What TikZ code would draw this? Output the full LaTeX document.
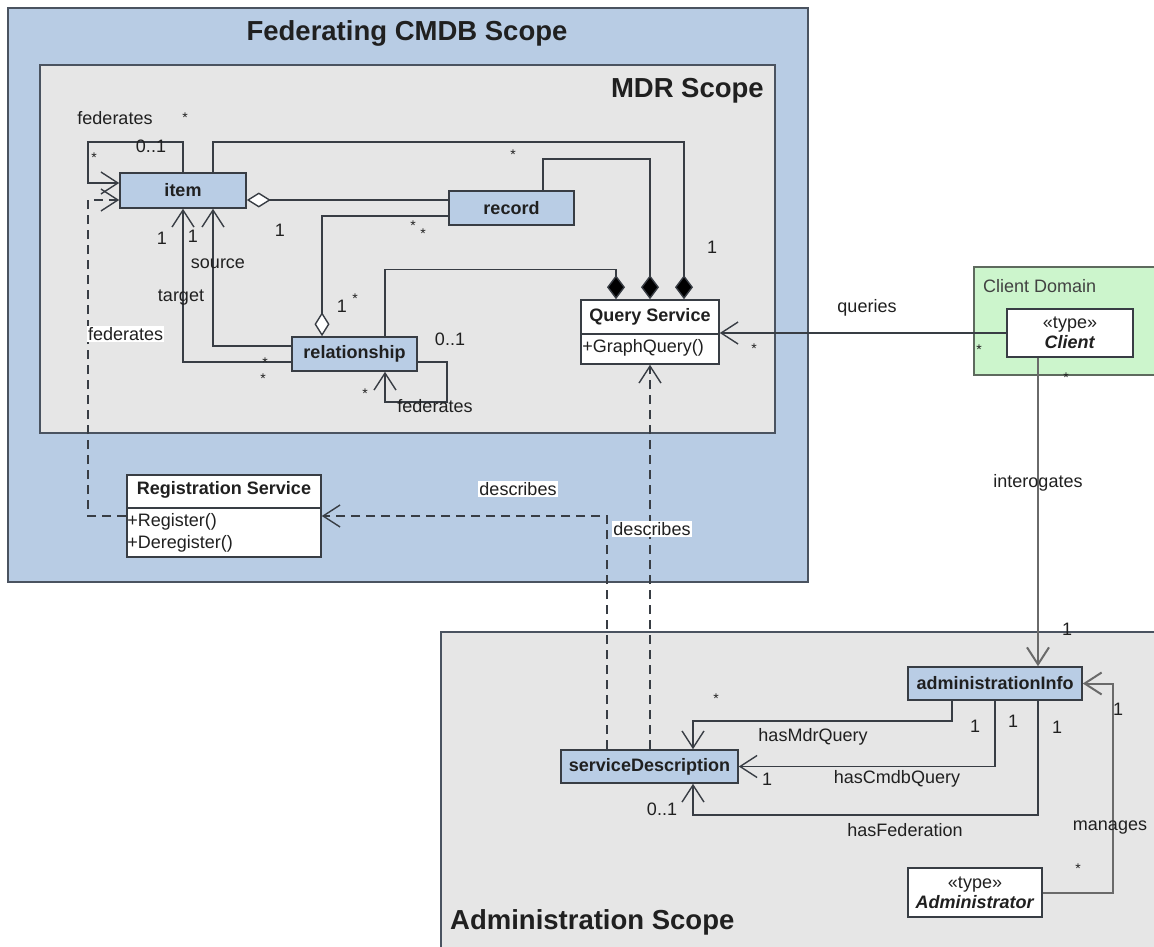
\documentclass[tikz,border=0pt]{standalone}
\usepackage{fontspec}
\setmainfont{Liberation Sans}
\usetikzlibrary{arrows.meta}

\definecolor{classfill}{HTML}{B9CDE5}
\definecolor{fedfill}{HTML}{B8CCE4}
\definecolor{mdrfill}{HTML}{E6E6E6}
\definecolor{adminfill}{HTML}{E6E6E6}
\definecolor{clientfill}{HTML}{CCF5CC}
\definecolor{clientedge}{HTML}{5E6A5E}
\definecolor{edge}{HTML}{383D44}
\definecolor{scopeedge}{HTML}{4A5360}
\definecolor{ink}{HTML}{202020}
\definecolor{greyline}{HTML}{6A6A6A}

\tikzset{
  lbl/.style={font=\fontsize{18}{20}\selectfont, text=ink, inner sep=0pt},
  star/.style={font=\fontsize{14}{16}\selectfont, text=ink, inner sep=0pt},
  classbox/.style={draw=edge, fill=classfill, line width=1.6pt, inner sep=0pt,
    font=\bfseries\fontsize{18}{20}\selectfont, text=ink},
  typebox/.style={draw=edge, fill=white, line width=1.6pt, inner sep=0pt,
    align=center, font=\fontsize{18}{21}\selectfont, text=ink},
  scopetitle/.style={font=\bfseries\fontsize{27.5}{30}\selectfont, text=ink, inner sep=0pt},
  assoc/.style={draw=edge, line width=1.4pt},
  nav/.style={assoc, -{Straight Barb[length=17pt,width=22pt]}},
  greynav/.style={nav, draw=greyline, line width=2pt},
  dep/.style={nav, dash pattern=on 9pt off 6pt},
  comp/.style={assoc, -{Diamond[length=24pt,width=18pt,fill=black]}},
  aggr/.style={assoc, -{Diamond[length=24pt,width=15pt,fill=white]}},
  whitelbl/.style={lbl, fill=white, inner sep=1pt},
}

\begin{document}
\begin{tikzpicture}[x=1pt,y=-1pt]
\useasboundingbox (0,0) rectangle (1154,947);
\clip (0,0) rectangle (1154,947);
\fill[white] (0,0) rectangle (1154,947);

% ---- scopes ----
\draw[scopeedge, line width=1.8pt, fill=fedfill] (8,8) rectangle (808,582);
\draw[scopeedge, line width=1.8pt, fill=mdrfill] (40,65) rectangle (775,433);
\draw[scopeedge, line width=1.8pt, fill=adminfill] (441,632) rectangle (1170,960);
\draw[clientedge, line width=1.4pt, fill=clientfill] (974,267) rectangle (1170,375);

\node[scopetitle] (fedtitle) at (407,33) {Federating CMDB Scope};
\node[scopetitle, anchor=east] (mdrtitle) at (764,91) {MDR Scope};
\node[scopetitle, anchor=west] (admtitle) at (450,922) {Administration Scope};
\node[lbl, anchor=west, text=ink!85] (cdtitle) at (983,286) {Client Domain};

% ---- classes ----
\node[classbox, minimum width=126pt, minimum height=35pt] (item) at (183,190.5) {item};
\node[classbox, minimum width=125pt, minimum height=34pt] (record) at (511.5,208) {record};
\node[classbox, minimum width=125pt, minimum height=34pt] (rel) at (354.5,354) {relationship};
\node[classbox, minimum width=177pt, minimum height=33pt] (sd) at (649.5,766.5) {serviceDescription};
\node[classbox, minimum width=174pt, minimum height=33pt] (ai) at (995,683.5) {administrationInfo};

% Query Service with one operation
\node[typebox, minimum width=138pt, minimum height=64pt] (qs) at (650,332) {};
\draw[edge, line width=1.4pt] ([yshift=-2pt]qs.west) -- ([yshift=-2pt]qs.east);
\node[lbl, font=\bfseries\fontsize{18}{20}\selectfont] (qsname) at ([yshift=15pt]qs.center) {Query Service};
\node[lbl, anchor=west] (qsop) at ([xshift=2pt,yshift=-16pt]qs.west) {+GraphQuery()};

% Registration Service with two operations
\node[typebox, minimum width=194pt, minimum height=82pt] (reg) at (224,516) {};
\draw[edge, line width=1.4pt] ([yshift=8pt]reg.west) -- ([yshift=8pt]reg.east);
\node[lbl, font=\bfseries\fontsize{18}{20}\selectfont] (regname) at ([yshift=26pt]reg.center) {Registration Service};
\node[lbl, anchor=west] (regop1) at ([xshift=1pt,yshift=-6pt]reg.west) {+Register()};
\node[lbl, anchor=west] (regop2) at ([xshift=1pt,yshift=-28pt]reg.west) {+Deregister()};

% actor types
\node[typebox, minimum width=126pt, minimum height=48pt] (client) at (1070,333)
  {«type»\\[-1pt]\textbf{\textit{Client}}};
\node[typebox, minimum width=134pt, minimum height=49pt] (admin) at (975,892.5)
  {«type»\\[-1pt]\textbf{\textit{Administrator}}};

% ---- MDR associations ----
\draw[nav] (item.north) -- ++(0,-30) -| (88,183) -- ([yshift=7.5pt]item.west);
\draw[comp] ([xshift=30pt]item.north) -- ++(0,-30) -| ([xshift=34pt]qs.north);
\draw[comp] ([xshift=31.5pt]record.north) -- ++(0,-31) -| (qs.north);
\draw[comp] ([xshift=30.5pt]rel.north) -- ++(0,-67) -| ([xshift=-34pt]qs.north);
\draw[aggr] ([yshift=8pt]record.west) -- ([yshift=-9.5pt]item.east);
\draw[aggr] ([yshift=-8pt]record.west) -| ([xshift=-32.5pt]rel.north);
\draw[nav] ([yshift=8pt]rel.west) -| ([xshift=30pt]item.south);
\draw[nav] ([yshift=-8pt]rel.west) -| (item.south);
\draw[nav] ([yshift=-8pt]rel.east) -| (447,402) -| ([xshift=30.5pt]rel.south);

% ---- dependencies ----
\draw[dep] (reg.west) -| (88,200) -- ([yshift=-9.5pt]item.west);
\draw[dep] ([xshift=-42.5pt]sd.north) |- (reg.east);
\draw[dep] (qs.south |- sd.north) -- (qs.south);

% ---- client and administration ----
\draw[nav] (client.west) -- (client.west -| qs.east);
\draw[greynav] ([xshift=-32pt]client.south) -- ([xshift=43pt]ai.north);
\draw[nav] ([xshift=-43pt]ai.south) -- ++(0,20) -| ([xshift=43.5pt]sd.north);
\draw[nav] (ai.south) |- (sd.east);
\draw[nav] ([xshift=43pt]ai.south) -- ++(0,114) -| ([xshift=43.5pt]sd.south);
\draw[greynav] (admin.east) -- ++(70,0) |- (ai.east);

% ---- labels and multiplicities ----
\node[lbl] (l1) at (115,118) {federates};
\node[star] (s1) at (185,118) {*};
\node[lbl] (l2) at (151,146) {0..1};
\node[star] (s2) at (94,158) {*};
\node[star] (s3) at (513,155) {*};
\node[lbl] (l3) at (712,247) {1};
\node[lbl] (l4) at (280,230) {1};
\node[star] (s4) at (413,226) {*};
\node[star] (s5) at (423,234) {*};
\node[lbl] (l5) at (342,306) {1};
\node[star] (s6) at (355,299) {*};
\node[lbl] (l6) at (162,238) {1};
\node[lbl] (l7) at (193,236) {1};
\node[lbl] (l8) at (218,264) {source};
\node[lbl] (l9) at (181,298) {target};
\node[star] (s7) at (265,363) {*};
\node[star] (s8) at (263,379) {*};
\node[lbl] (l10) at (450,339) {0..1};
\node[star] (s9) at (365,394) {*};
\node[lbl] (l11) at (435,406) {federates};
\node[whitelbl, anchor=west] (l12) at (87,334) {federates};
\node[whitelbl] (l13) at (518,489) {describes};
\node[whitelbl] (l14) at (652,529) {describes};
\node[lbl] (l15) at (867,308) {queries};
\node[star] (s10) at (754,349) {*};
\node[star] (s11) at (979,350) {*};
\node[star] (s12) at (1066,378) {*};
\node[lbl] (l16) at (1038,483) {interogates};
\node[lbl] (l17) at (1067,629) {1};
\node[star] (s13) at (716,699) {*};
\node[lbl] (l18) at (813,737) {hasMdrQuery};
\node[lbl] (l19) at (767,779) {1};
\node[lbl] (l20) at (897,779) {hasCmdbQuery};
\node[lbl] (l21) at (662,809) {0..1};
\node[lbl] (l22) at (905,830) {hasFederation};
\node[lbl] (l23) at (975,726) {1};
\node[lbl] (l24) at (1013,721) {1};
\node[lbl] (l25) at (1057,727) {1};
\node[lbl] (l26) at (1118,709) {1};
\node[lbl] (l27) at (1110,828) {manages};
\node[star] (s14) at (1078,869) {*};
\end{tikzpicture}
\end{document}
